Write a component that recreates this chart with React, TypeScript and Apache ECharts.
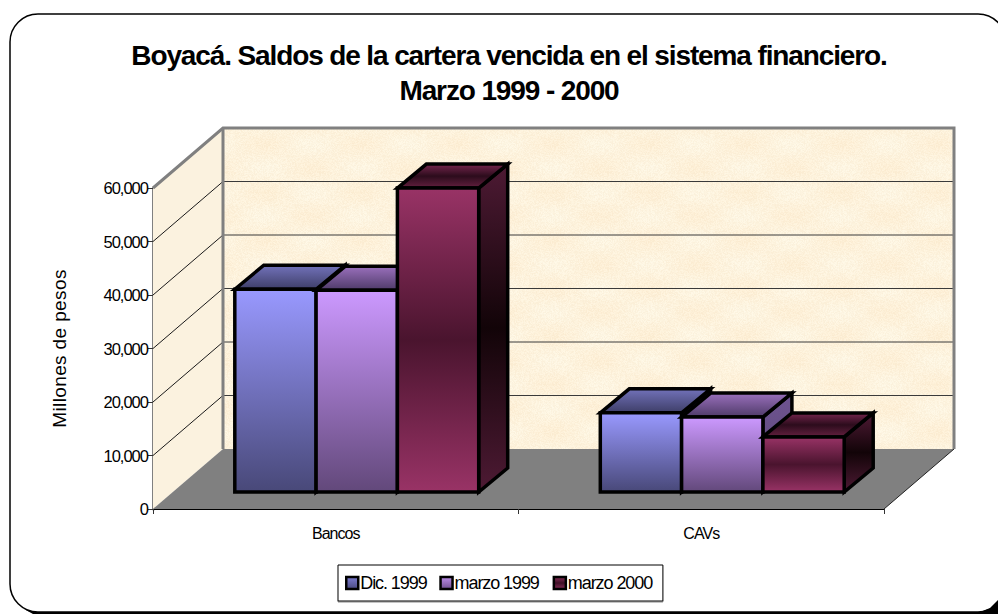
import React, { useEffect, useRef } from "react";
import * as echarts from "echarts";

const categories = ["Bancos", "CAVs"];
const seriesNames = ["Dic. 1999", "marzo 1999", "marzo 2000"];
const dic1999 = [37900, 14800];
const marzo1999 = [37700, 14000];
const marzo2000 = [56800, 10300];
const seriesValues = [dic1999, marzo1999, marzo2000];
const titleLines = ["Boyacá. Saldos de la cartera vencida en el sistema financiero.", "Marzo 1999 - 2000"];
const yTicks = [0, 10000, 20000, 30000, 40000, 50000, 60000];

const FONT = "'Liberation Sans', Arial, sans-serif";
const WALL = { dx: 70, dy: -60 };
const BAR_BASE = { dx: 21, dy: -17 };
const BAR_DEPTH = { dx: 29, dy: -24 };
const BAR_W_FRAC = 81.3 / 365.5;

const v = (a: string, b: string, c?: string) => {
  const stops = c
    ? [{ offset: 0, color: a }, { offset: 0.5, color: b }, { offset: 1, color: c }]
    : [{ offset: 0, color: a }, { offset: 1, color: b }];
  return new echarts.graphic.LinearGradient(0, 0, 0, 1, stops);
};

const palette = [
  { front: () => v("#9999FF", "#484878"), top: () => v("#7272BA", "#3E3E68"), side: () => v("#5A5A96", "#2E2E50"), legend: () => v("#7C7CD0", "#4A4A80") },
  { front: () => v("#CC99FF", "#62487A"), top: () => v("#9A70BC", "#4E3A68"), side: () => v("#6E5490", "#5C4678"), legend: () => v("#BC8CE8", "#705090") },
  { front: () => v("#993366", "#4A142E", "#993366"), top: () => v("#76264E", "#2C0C1C", "#64203F"), side: () => v("#4E1A34", "#120408", "#4E1A34"), legend: () => v("#8A2E5A", "#3E1026", "#8A2E5A") },
];

function makeTexture(): string {
  const size = 96;
  const c = document.createElement("canvas");
  c.width = size;
  c.height = size;
  const ctx = c.getContext("2d")!;
  for (let x = 0; x < size; x++) {
    for (let y = 0; y < size; y++) {
      const n = Math.sin(x * 12.9898 + y * 78.233) * 43758.5453;
      const d = (n - Math.floor(n) - 0.5) * 9;
      const w = Math.sin((x / size) * Math.PI * 2) * Math.cos((y / size) * Math.PI * 4) * 3;
      ctx.fillStyle = `rgb(${Math.round(253 + d / 2)},${Math.round(242 + d + w)},${Math.round(220 + d * 1.5 + w * 2)})`;
      ctx.fillRect(x, y, 1, 1);
    }
  }
  return c.toDataURL();
}

export default function App() {
  const ref = useRef<HTMLDivElement>(null);
  useEffect(() => {
    document.body.style.margin = "0";
    document.body.style.background = "#fff";
    const css = document.createElement("style");
    css.textContent = `svg text{letter-spacing:-0.06em}
svg text[style*="28px"]{letter-spacing:-0.04em}
svg text[style*="19px"]{letter-spacing:0.02em}`;
    document.head.appendChild(css);
    const chart = echarts.init(ref.current!, undefined, { renderer: "svg" });
    const texture = makeTexture();

    const wallsItem = (_: any, api: any) => {
      const a = api.coord([0, 0]);
      const top = api.coord([0, 60000]);
      const size = api.size([1, 0]);
      const x0 = a[0] - size[0] / 2;
      const x1 = x0 + size[0] * categories.length;
      const y0 = a[1];
      const y1 = top[1];
      const { dx, dy } = WALL;
      const children: any[] = [
        { type: "polygon", shape: { points: [[x0, y0], [x0 + dx, y0 + dy], [x0 + dx, y1 + dy], [x0, y1]] }, style: { fill: "#FBF2DF", stroke: "none" } },
        { type: "rect", shape: { x: x0 + dx, y: y1 + dy, width: x1 - x0, height: y0 - y1 }, style: { fill: { image: texture, repeat: "repeat" }, stroke: "none" } },
        { type: "polygon", shape: { points: [[x0, y0], [x0 + dx, y0 + dy], [x1 + dx, y0 + dy], [x1, y0]] }, style: { fill: "#808080", stroke: "none" } },
      ];
      yTicks.slice(1, -1).forEach((t) => {
        const y = api.coord([0, t])[1];
        children.push({ type: "line", shape: { x1: x0, y1: y, x2: x0 + dx, y2: y + dy }, style: { stroke: "#1a1a1a", lineWidth: 1 } });
        children.push({ type: "line", shape: { x1: x0 + dx, y1: y + dy, x2: x1 + dx, y2: y + dy }, style: { stroke: "#3a3a3a", lineWidth: 1 } });
      });
      children.push({ type: "line", shape: { x1: x1, y1: y0, x2: x1 + dx, y2: y0 + dy }, style: { stroke: "#222", lineWidth: 1 } });
      const edge = { stroke: "#808080", lineWidth: 3, fill: "none" };
      children.push({ type: "polyline", shape: { points: [[x0, y1], [x0 + dx, y1 + dy], [x1 + dx, y1 + dy], [x1 + dx, y0 + dy]] }, style: edge });
      children.push({ type: "line", shape: { x1: x0 + dx, y1: y1 + dy, x2: x0 + dx, y2: y0 + dy }, style: { stroke: "#808080", lineWidth: 3 } });
      return { type: "group", children };
    };

    const barItem = (si: number) => (_: any, api: any) => {
      const cat = api.value(0);
      const val = api.value(1);
      const band = api.size([1, 0])[0];
      const w = band * BAR_W_FRAC;
      const base = api.coord([cat, 0]);
      const tip = api.coord([cat, val]);
      const xl = base[0] + BAR_BASE.dx + (si - 1.5) * w;
      const xr = xl + w;
      const yb = base[1] + BAR_BASE.dy;
      const yt = tip[1] + BAR_BASE.dy;
      const { dx, dy } = BAR_DEPTH;
      const p = palette[si];
      const stroke = { stroke: "#000", lineWidth: 3.5, lineJoin: "miter" as const };
      return {
        type: "group",
        children: [
          { type: "polygon", shape: { points: [[xr, yt], [xr + dx, yt + dy], [xr + dx, yb + dy], [xr, yb]] }, style: { fill: p.side(), ...stroke } },
          { type: "polygon", shape: { points: [[xl, yt], [xl + dx, yt + dy], [xr + dx, yt + dy], [xr, yt]] }, style: { fill: p.top(), ...stroke } },
          { type: "rect", shape: { x: xl, y: yt, width: w, height: yb - yt }, style: { fill: p.front(), ...stroke } },
        ],
      };
    };

    chart.setOption({
      animation: false,
      backgroundColor: "#fff",
      grid: { left: 153, top: 188, width: 731, height: 321, containLabel: false },
      xAxis: {
        type: "category",
        data: categories,
        boundaryGap: true,
        axisLine: { lineStyle: { color: "#000", width: 1 } },
        axisTick: { show: true, length: 5, alignWithLabel: false, lineStyle: { color: "#333" } },
        axisLabel: { color: "#000", fontFamily: FONT, fontSize: 16, margin: 16 },
        splitLine: { show: false },
      },
      yAxis: {
        type: "value",
        min: 0,
        max: 60000,
        interval: 10000,
        name: "Millones de pesos",
        nameLocation: "middle",
        nameRotate: 90,
        nameGap: 84,
        nameTextStyle: { color: "#000", fontFamily: FONT, fontSize: 19 },
        axisLine: { show: true, lineStyle: { color: "#808080", width: 3 } },
        axisTick: { show: true, length: 5, lineStyle: { color: "#333" } },
        axisLabel: {
          color: "#000",
          fontFamily: FONT,
          fontSize: 16.5,
          margin: 5,
          formatter: (n: number) => n.toLocaleString("en-US"),
        },
        splitLine: { show: false },
      },
      legend: {
        left: 338,
        top: 565,
        width: 400,
        padding: [9, 0, 9, 7],
        itemGap: 3,
        itemWidth: 12,
        itemHeight: 12,
        borderColor: "#000",
        borderWidth: 1,
        backgroundColor: "#fff",
        shadowColor: "#888",
        shadowOffsetY: 1,
        icon: "rect",
        textStyle: { color: "#000", fontFamily: FONT, fontSize: 18, padding: [0, 0, 0, -3] },
        data: seriesNames.map((name, i) => ({
          name,
          itemStyle: { color: palette[i].legend(), borderColor: "#000", borderWidth: 2.5 },
        })),
      },
      series: [
        { type: "custom", name: "walls", silent: true, renderItem: wallsItem, data: [[0]], z: 1 },
        ...seriesNames.map((name, si) => ({
          type: "custom",
          name,
          silent: true,
          renderItem: barItem(si),
          encode: { x: 0, y: 1 },
          data: categories.map((_, ci) => [ci, seriesValues[si][ci]]),
          itemStyle: { color: palette[si].legend() },
          z: 2 + si,
        })),
      ],
      graphic: [
        {
          type: "rect",
          silent: true,
          z: -10,
          shape: { x: 10, y: 14, width: 996, height: 598, r: 28 },
          style: { fill: "#fff", stroke: "#000", lineWidth: 1.5 },
        },
        {
          type: "polygon",
          silent: true,
          z: -9,
          shape: { points: [[24, 609], [34, 612], [980, 612], [990, 608], [998, 600], [998, 614], [33, 614]] },
          style: { fill: "#000" },
        },
        ...titleLines.map((text, i) => ({
          type: "text",
          silent: true,
          x: 509,
          y: 55 + i * 35,
          style: { text, fill: "#000", font: `bold 28px ${FONT}`, align: "center", verticalAlign: "middle" },
        })),
      ],
    });
    return () => {
      chart.dispose();
      css.remove();
    };
  }, []);
  return <div ref={ref} style={{ position: "absolute", left: 0, top: 0, width: 998, height: 614 }} />;
}
